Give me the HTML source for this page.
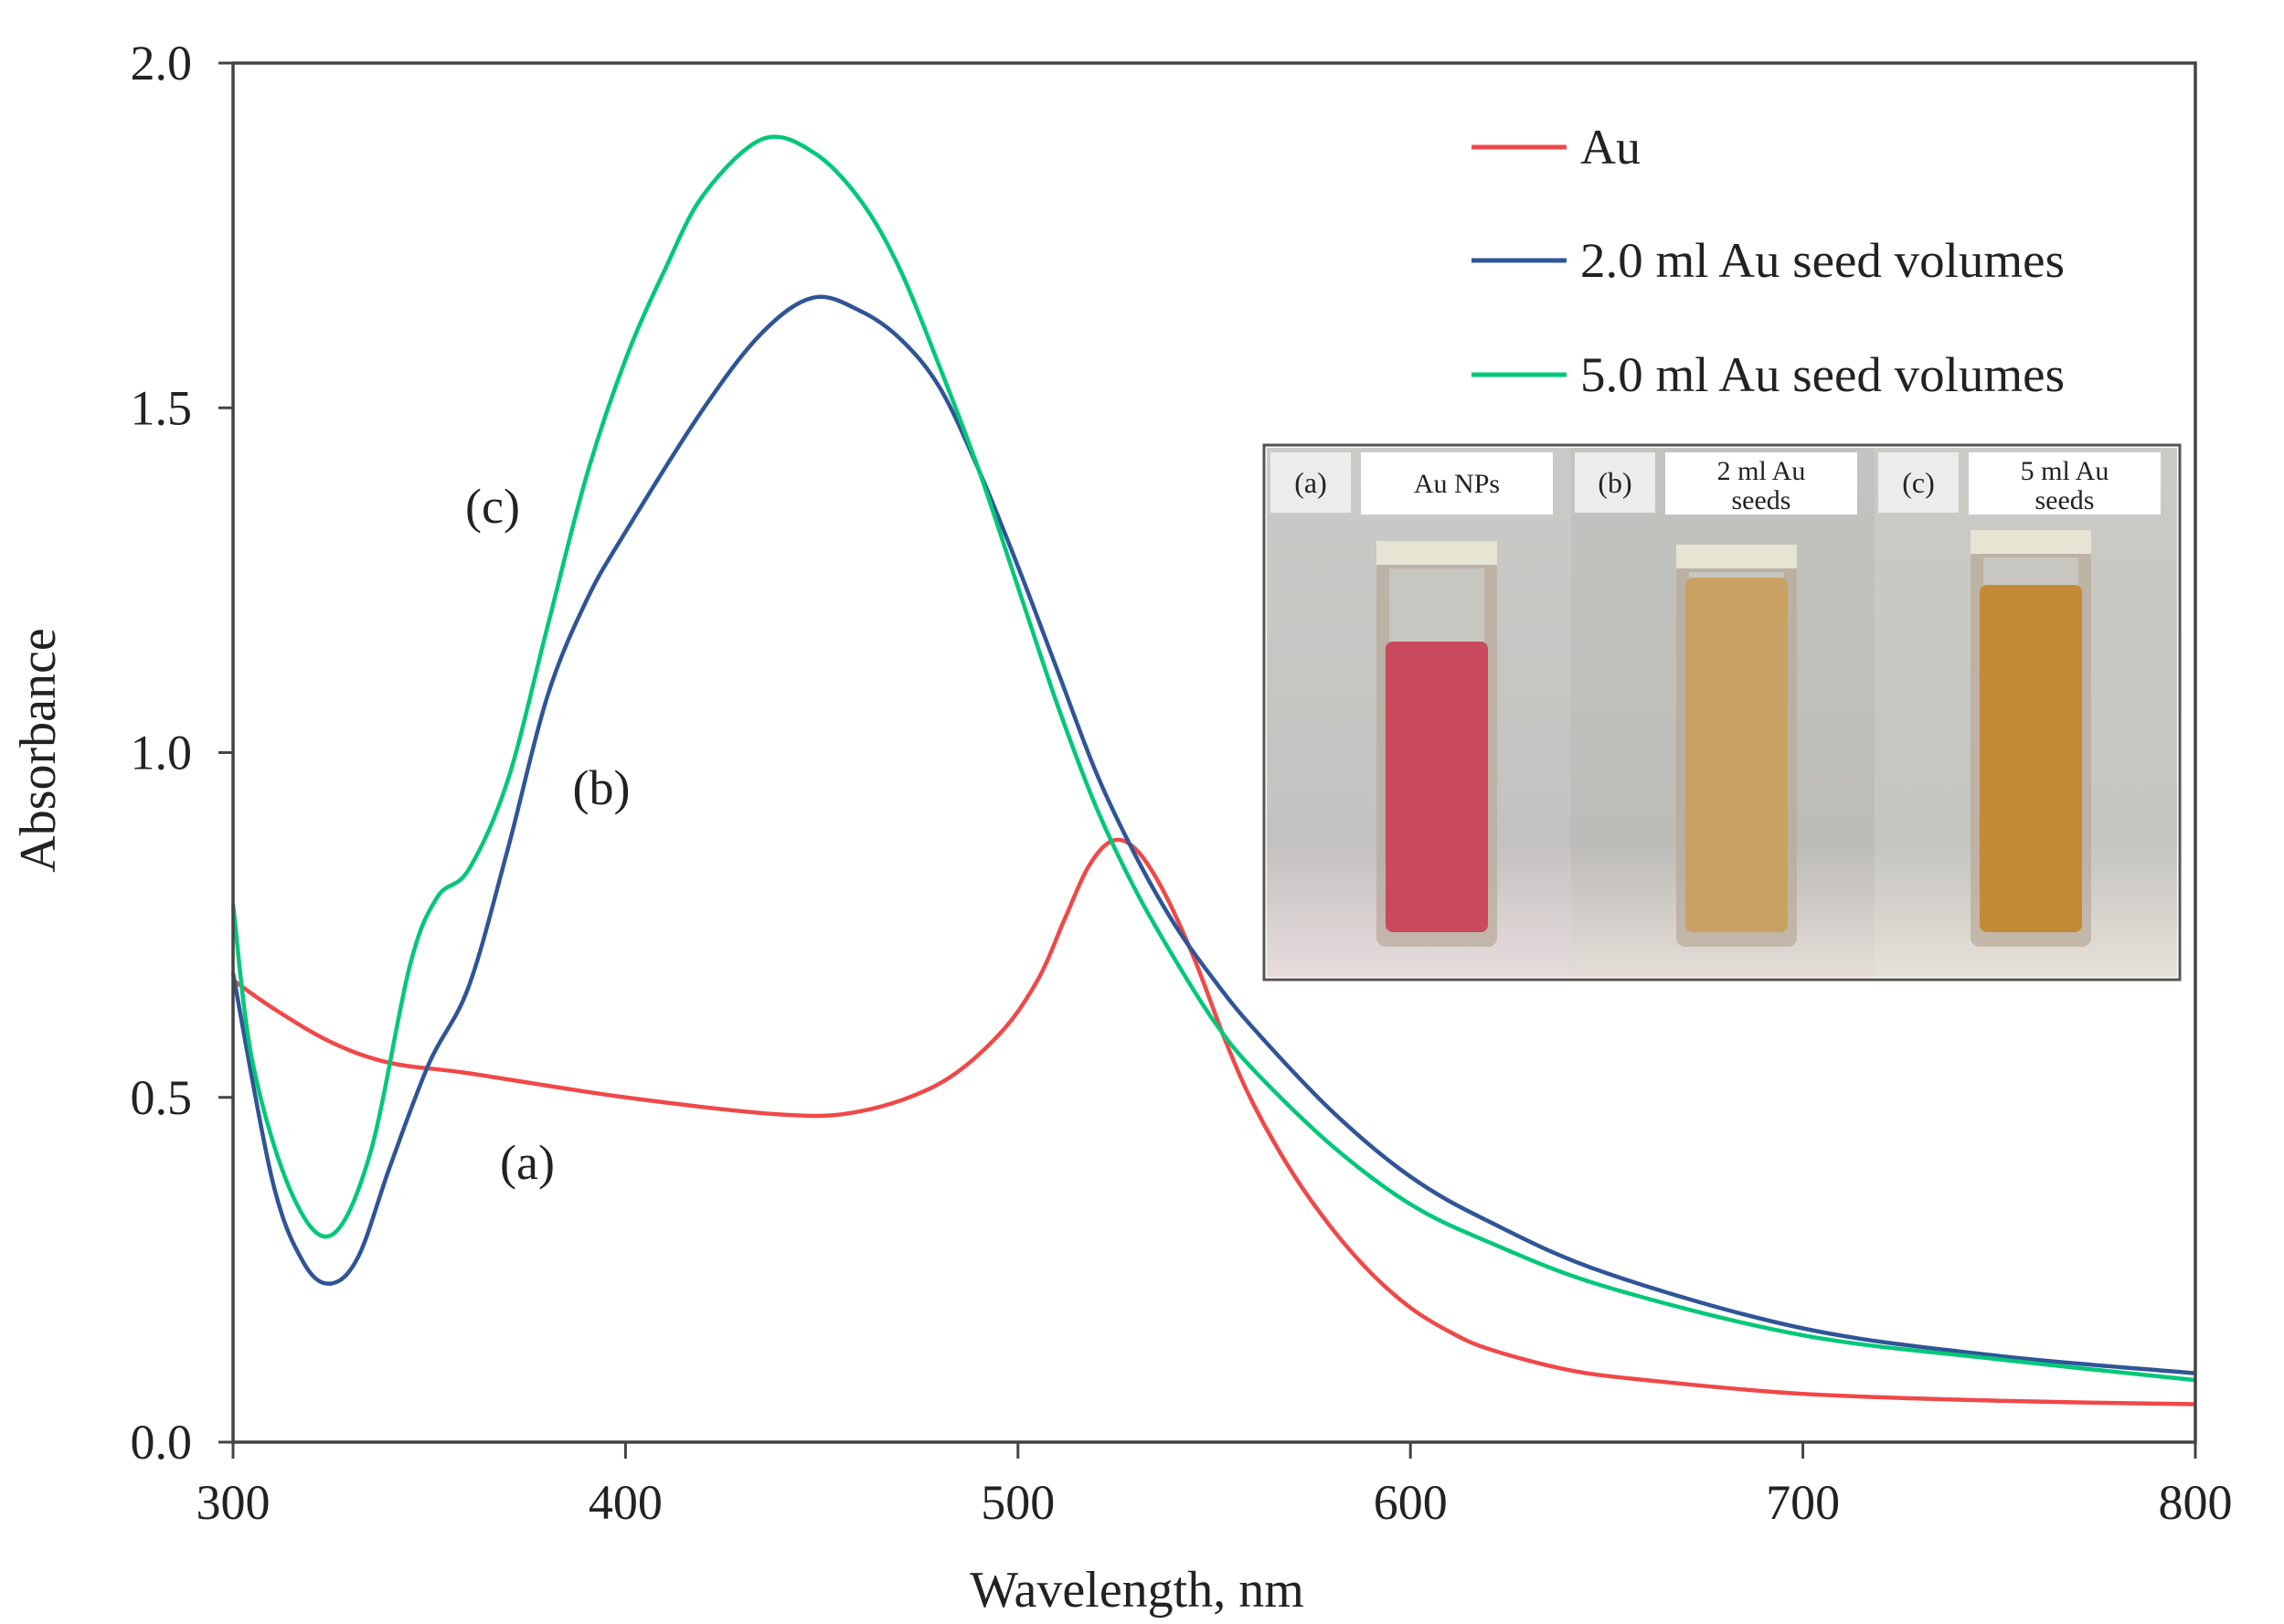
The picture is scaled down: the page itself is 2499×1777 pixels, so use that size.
<!DOCTYPE html>
<html><head><meta charset="utf-8"><style>
html,body{margin:0;padding:0;background:#fff;}
svg{display:block;font-family:"Liberation Serif",serif;}
</style></head><body>
<svg id="s" width="2499" height="1777" viewBox="0 0 2499 1777" xmlns="http://www.w3.org/2000/svg">
<defs>
<linearGradient id="bgA" x1="0" y1="0" x2="0" y2="1"><stop offset="0" stop-color="#c9cbc7"/><stop offset="0.75" stop-color="#c4c2c0"/><stop offset="1" stop-color="#e6dcdc"/></linearGradient>
<linearGradient id="bgB" x1="0" y1="0" x2="0" y2="1"><stop offset="0" stop-color="#c2c4c0"/><stop offset="0.75" stop-color="#bdbcb8"/><stop offset="1" stop-color="#e4ddd8"/></linearGradient>
<linearGradient id="bgC" x1="0" y1="0" x2="0" y2="1"><stop offset="0" stop-color="#cacbc6"/><stop offset="0.75" stop-color="#c6c5c0"/><stop offset="1" stop-color="#e6e0da"/></linearGradient>
</defs>
<g id="plot"></g>
</svg>
<script>
var NS="http://www.w3.org/2000/svg",G=document.getElementById('plot');
function el(t,a,txt,p){var e=document.createElementNS(NS,t);for(var k in a)e.setAttribute(k,a[k]);if(txt!=null)e.textContent=txt;(p||G).appendChild(e);return e;}
var XL=255,XR=2402;
function X(w){return XL+(w-300)*(XR-XL)/500;}
function Y(v){return 1578-v*(1578-69)/2;}
var ix=1383,iy=487,iw=1002,ih=585;
el('rect',{x:ix,y:iy,width:iw,height:ih,fill:'#fff',stroke:'#555','stroke-width':3});
var bgs=['bgA','bgB','bgC'],px=[ix+3,ix+336,ix+668],pws=[333,332,331];
var cx=[1572,1900,2222],liq=['#c84a5c','#c9a163','#c38a36'],lt=[702,632,640],capT=[592,596,580];
var labs=[['(a)',['Au NPs']],['(b)',['2 ml Au','seeds']],['(c)',['5 ml Au','seeds']]];
for(var i=0;i<3;i++){
 el('rect',{x:px[i],y:iy+3,width:pws[i],height:ih-6,fill:'url(#'+bgs[i]+')'});
 var c=cx[i];
 el('rect',{x:c-66,y:capT[i]+20,width:132,height:1036-capT[i]-20,rx:10,fill:'#b8aa98',opacity:0.7});
 el('rect',{x:c-52,y:capT[i]+30,width:104,height:lt[i]-capT[i]-20,fill:'#c8c6c0'});
 el('rect',{x:c-56,y:lt[i],width:112,height:1020-lt[i],rx:8,fill:liq[i]});
 el('rect',{x:c-66,y:capT[i],width:132,height:26,fill:'#e6e4d2'});
 var by=iy+8;
 el('rect',{x:px[i]+4,y:by,width:88,height:66,fill:'#ececec'});
 el('text',{x:px[i]+48,y:by+44,'font-size':32,'text-anchor':'middle',fill:'#222'},labs[i][0]);
 el('rect',{x:px[i]+103,y:by,width:210,height:68,fill:'#fff'});
 var L=labs[i][1];
 if(L.length==1) el('text',{x:px[i]+208,y:by+44,'font-size':30,'text-anchor':'middle',fill:'#222'},L[0]);
 else{el('text',{x:px[i]+208,y:by+30,'font-size':30,'text-anchor':'middle',fill:'#222'},L[0]);el('text',{x:px[i]+208,y:by+62,'font-size':30,'text-anchor':'middle',fill:'#222'},L[1]);}
}
function curve(d,col){
 var p=d.map(function(a){return [X(a[0]),Y(a[1])];});
 var s='M'+p[0][0]+','+p[0][1];
 for(var i=0;i<p.length-1;i++){
  var p0=p[Math.max(0,i-1)],p1=p[i],p2=p[i+1],p3=p[Math.min(p.length-1,i+2)];
  var c1=[p1[0]+(p2[0]-p0[0])/6,p1[1]+(p2[1]-p0[1])/6],c2=[p2[0]-(p3[0]-p1[0])/6,p2[1]-(p3[1]-p1[1])/6];
  s+=' C'+c1.join(',')+' '+c2.join(',')+' '+p2.join(',');
 }
 el('path',{d:s,fill:'none',stroke:col,'stroke-width':4.5,'stroke-linejoin':'round'});
}
var red=[[300,0.67],[310,0.63],[325,0.58],[340,0.55],[360,0.535],[400,0.50],[440,0.475],[460,0.48],[480,0.52],[495,0.59],[505,0.67],[512,0.76],[518,0.835],[524,0.872],[530,0.86],[537,0.80],[545,0.70],[553,0.58],[560,0.49],[570,0.39],[580,0.31],[590,0.245],[600,0.195],[610,0.16],[620,0.135],[640,0.105],[660,0.09],[700,0.07],[750,0.06],[800,0.055]];
var blue=[[300,0.68],[310,0.38],[318,0.26],[325,0.23],[332,0.27],[340,0.40],[350,0.55],[360,0.66],[370,0.86],[380,1.08],[390,1.22],[400,1.32],[420,1.50],[435,1.61],[448,1.66],[460,1.64],[470,1.60],[480,1.53],[490,1.41],[500,1.27],[510,1.12],[520,0.97],[530,0.85],[540,0.75],[550,0.67],[560,0.60],[580,0.48],[600,0.385],[620,0.32],[650,0.245],[700,0.165],[750,0.125],[800,0.10]];
var green=[[300,0.78],[305,0.55],[315,0.36],[325,0.30],[335,0.42],[345,0.69],[352,0.79],[360,0.83],[370,0.96],[380,1.18],[390,1.40],[400,1.57],[410,1.70],[420,1.81],[435,1.89],[448,1.87],[460,1.80],[470,1.70],[480,1.56],[490,1.41],[500,1.24],[510,1.07],[520,0.92],[530,0.80],[540,0.70],[550,0.61],[560,0.54],[580,0.43],[600,0.345],[620,0.29],[650,0.225],[700,0.155],[750,0.12],[800,0.09]];
curve(red,'#f04848');curve(blue,'#2f5597');curve(green,'#00c878');
el('path',{d:'M'+XL+',69 H'+XR+' V1578 H'+XL+' Z',fill:'none',stroke:'#444','stroke-width':3.5});
[0,0.5,1,1.5,2].forEach(function(v){var y=Y(v);el('line',{x1:XL-16,y1:y,x2:XL,y2:y,stroke:'#444','stroke-width':3});
 el('text',{x:210,y:y+18,'font-size':54,'text-anchor':'end',fill:'#222'},v.toFixed(1));});
[300,400,500,600,700,800].forEach(function(w){var x=X(w);el('line',{x1:x,y1:1578,x2:x,y2:1596,stroke:'#444','stroke-width':3});
 el('text',{x:x,y:1662,'font-size':54,'text-anchor':'middle',fill:'#222'},w);});
el('text',{x:1244,y:1758,'font-size':56,'text-anchor':'middle',fill:'#222'},'Wavelength, nm');
el('text',{x:0,y:0,'font-size':56,'text-anchor':'middle',fill:'#222',transform:'translate(60,821) rotate(-90)'},'Absorbance');
var lg=[['Au','#f04848',161],['2.0 ml Au seed volumes','#2f5597',285],['5.0 ml Au seed volumes','#00c878',410]];
lg.forEach(function(l){el('line',{x1:1610,y1:l[2],x2:1714,y2:l[2],stroke:l[1],'stroke-width':5});
 var a={x:1729,y:l[2]+18,'font-size':54,fill:'#222'}; if(l[0].length>3){a.textLength=530;a.lengthAdjust='spacingAndGlyphs';}
 el('text',a,l[0]);});
el('text',{x:539,y:572,'font-size':54,'text-anchor':'middle',fill:'#222'},'(c)');
el('text',{x:658,y:880,'font-size':54,'text-anchor':'middle',fill:'#222'},'(b)');
el('text',{x:577,y:1290,'font-size':54,'text-anchor':'middle',fill:'#222'},'(a)');
</script>
</body></html>
